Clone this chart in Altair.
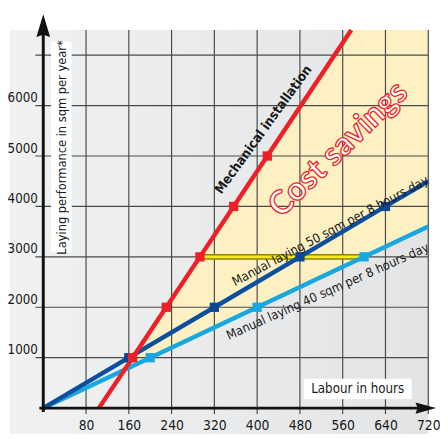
import altair as alt
import pandas as pd
import numpy as np

# ---------------- data ----------------
x_ticks = [80, 160, 240, 320, 400, 480, 560, 640, 720]
y_grid = [1000, 2000, 3000, 4000, 5000, 6000, 7000]
y_labels = [1000, 2000, 3000, 4000, 5000, 6000]

mech_hours = [104, 167, 230, 293, 356, 419, 576]
mech_values = [0, 1000, 2000, 3000, 4000, 5000, 7500]

m50_hours = [0, 160, 320, 480, 640, 720]
m50_values = [0, 1000, 2000, 3000, 4000, 4500]

m40_hours = [0, 200, 400, 600, 720]
m40_values = [0, 1000, 2000, 3000, 3600]

cmp_hours = [293, 600]
cmp_values = [3000, 3000]

# ---------------- derived tables ----------------
mech = pd.DataFrame({"h": mech_hours, "v": mech_values})
m50 = pd.DataFrame({"h": m50_hours, "v": m50_values})
m40 = pd.DataFrame({"h": m40_hours, "v": m40_values})
mech_pts = mech[(mech.v > 0) & (mech.v <= 5000)]
m50_pts = m50[(m50.v > 0) & (m50.v <= 4000)]
m40_pts = m40[(m40.v > 0) & (m40.v <= 3000)]

# savings area: between mechanical line (top) and 40 sqm line (bottom)
sr = (mech_values[1] - mech_values[0]) / (mech_hours[1] - mech_hours[0])
sb = m40_values[1] / m40_hours[1]
h_int = sr * mech_hours[0] / (sr - sb)
xs_area = sorted(set([h_int] + [h for h in mech_hours + m40_hours if h > h_int]))
area = pd.DataFrame({
    "h": xs_area,
    "v": np.interp(xs_area, m40_hours, m40_values),
    "v2": np.interp(xs_area, mech_hours, mech_values),
})
cmp_df = pd.DataFrame({"h": [cmp_hours[0]], "h2": [cmp_hours[1]], "v": [cmp_values[0]]})
one = pd.DataFrame({"a": [0]})

F = "'Liberation Sans Narrow', 'DejaVu Sans Condensed', sans-serif"
TXT = "#1a1a1a"
RED = "#ee1f27"
DBLUE = "#0c4f9e"
LBLUE = "#17a8e2"
GRID = "#4a4a4a"

W, H = 393, 386

xs = alt.Scale(domain=[0, 720], nice=False, zero=False)
ys = alt.Scale(domain=[0, 7500], nice=False, zero=False)

x_axis = alt.Axis(values=x_ticks, format="d", title="Labour in hours", titleX=320.5, titleY=-19.5,
                  titleAlign="center", titleBaseline="middle", titleFont=F, titleFontSize=13.5,
                  titleFontWeight="normal", titleColor=TXT, labelFont=F, labelFontSize=14,
                  labelColor=TXT, labelPadding=11, ticks=False, domain=False, grid=False,
                  labelBaseline="top", labelFlush=False, labelOverlap=False, zindex=1)
y_axis = alt.Axis(values=y_labels, format="d", title="Laying performance in sqm per year*",
                  titleX=18.5, titleY=119.5, titleAngle=270, titleAlign="center",
                  titleBaseline="middle", titleFont=F, titleFontSize=13, titleFontWeight="normal",
                  titleColor=TXT, labelFont=F, labelFontSize=13.5, labelColor=TXT, labelPadding=6,
                  ticks=False, domain=False, grid=False, labelBaseline="alphabetic",
                  labelOffset=-4, labelOverlap=False, labelFlush=False, zindex=1)

X = alt.X("h:Q", scale=xs, axis=x_axis)
Y = alt.Y("v:Q", scale=ys, axis=y_axis)

grad = alt.Gradient(gradient="linear", x1=0, x2=1, y1=0, y2=0,
                    stops=[alt.GradientStop(color="#f0f1f1", offset=0),
                           alt.GradientStop(color="#e3e4e6", offset=1)])

bg = alt.Chart(one).mark_rect(color=grad).encode(
    x=alt.value(-34), x2=alt.value(W), y=alt.value(0), y2=alt.value(H + 30))

fill = alt.Chart(area).mark_area(color="#fdf1c4", opacity=1).encode(x=X, y=Y, y2="v2:Q")

vgrid = alt.Chart(pd.DataFrame({"h": x_ticks})).mark_rule(color=GRID, strokeWidth=1.2).encode(
    x=X, y=alt.value(0), y2=alt.value(H + 6))
hgrid = alt.Chart(pd.DataFrame({"v": y_grid})).mark_rule(color=GRID, strokeWidth=1.2).encode(
    y=Y, x=alt.value(-8), x2=alt.value(W))

cmp_outer = alt.Chart(cmp_df).mark_rule(color="#8f8500", strokeWidth=6).encode(x=X, x2="h2:Q", y=Y)
cmp_inner = alt.Chart(cmp_df).mark_rule(color="#f7ea1c", strokeWidth=3).encode(x=X, x2="h2:Q", y=Y)

l40 = alt.Chart(m40).mark_line(color=LBLUE, strokeWidth=4.5).encode(x=X, y=Y)
l50 = alt.Chart(m50).mark_line(color=DBLUE, strokeWidth=4.5).encode(x=X, y=Y)
lmech = alt.Chart(mech).mark_line(color=RED, strokeWidth=4.5).encode(x=X, y=Y)

p40 = alt.Chart(m40_pts).mark_square(color=LBLUE, size=90, opacity=1).encode(x=X, y=Y)
p50 = alt.Chart(m50_pts).mark_square(color="#0a4894", size=90, opacity=1).encode(x=X, y=Y)
pmech = alt.Chart(mech_pts).mark_square(color=RED, size=90, opacity=1).encode(x=X, y=Y)

box_y = alt.Chart(one).mark_rect(color="white").encode(
    x=alt.value(8), x2=alt.value(29), y=alt.value(12), y2=alt.value(227))
box_x = alt.Chart(one).mark_rect(color="white").encode(
    x=alt.value(266), x2=alt.value(376), y=alt.value(356), y2=alt.value(377))

def label(txt, h, v, ang, size=14, weight="normal"):
    return alt.Chart(pd.DataFrame({"h": [h], "v": [v], "t": [txt]})).mark_text(
        font=F, fontSize=size, fontWeight=weight, color=TXT, angle=ang,
        align="center", baseline="middle").encode(x=X, y=Y, text="t:N")

t_mech = label("Mechanical installation", 412, 5520, 306, 13.5, "bold")
t50 = label("Manual laying 50 sqm per 8 hours day", 537, 3510, 332, 13)
t40 = label("Manual laying 40 sqm per 8 hours day", 532, 2310, 336, 13)
t_cost = alt.Chart(pd.DataFrame({"h": [552], "v": [5130], "t": ["Cost savings"]})).mark_text(
    font="Lato, 'Open Sans', sans-serif", fontSize=33, fontWeight="bold", fill="white",
    stroke=RED, strokeWidth=1.3, angle=316, align="center", baseline="middle").encode(
    x=X, y=Y, text="t:N")

yline = alt.Chart(one).mark_rule(color="#111111", strokeWidth=3).encode(
    x=alt.value(0), y=alt.value(-6), y2=alt.value(H + 4))
xline = alt.Chart(one).mark_rule(color="#111111", strokeWidth=3).encode(
    y=alt.value(H), x=alt.value(-4), x2=alt.value(W + 0))
arrow_up = alt.Chart(one).mark_point(shape="M0,-1L0.6,1L0,0.8L-0.6,1Z", filled=True,
                                     color="#111111", size=540, opacity=1).encode(
    x=alt.value(0), y=alt.value(-4.5))
arrow_right = alt.Chart(one).mark_point(shape="M1,0L-1,0.55L-0.8,0L-1,-0.55Z", filled=True,
                                        color="#111111", size=440, opacity=1).encode(
    x=alt.value(W - 2.5), y=alt.value(H))

chart = alt.layer(
    bg, fill, vgrid, hgrid, cmp_outer, cmp_inner, l40, l50, lmech, p40, p50, pmech,
    box_y, box_x, t_mech, t50, t40, t_cost, yline, xline, arrow_up, arrow_right
).properties(
    width=W, height=H, autosize="none",
    padding={"left": 36, "top": 18, "right": 12, "bottom": 22}
).configure_view(stroke=None).configure(background="white")

chart.save("out.html", embed_options={"renderer": "svg", "actions": False})
